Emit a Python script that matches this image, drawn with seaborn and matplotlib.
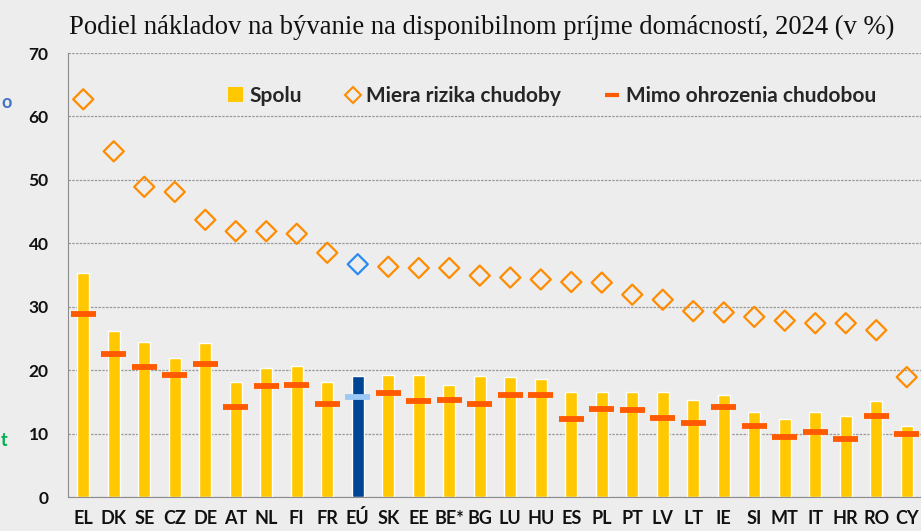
import numpy as np
import matplotlib.pyplot as plt
import seaborn as sns
from matplotlib.lines import Line2D
from matplotlib.patches import Patch
from matplotlib.ticker import MultipleLocator

# Hodnoty odčítané z grafu
krajiny = ['EL', 'DK', 'SE', 'CZ', 'DE', 'AT', 'NL', 'FI', 'FR', 'EÚ', 'SK', 'EE', 'BE*', 'BG',
           'LU', 'HU', 'ES', 'PL', 'PT', 'LV', 'LT', 'IE', 'SI', 'MT', 'IT', 'HR', 'RO', 'CY']
spolu = [35.3, 26.2, 24.4, 21.9, 24.3, 18.1, 20.3, 20.7, 18.2, 19.1, 19.2, 19.3, 17.7, 19.1,
         18.9, 18.6, 16.5, 16.5, 16.6, 16.5, 15.3, 16.1, 13.4, 12.3, 13.4, 12.8, 15.2, 11.2]
miera_rizika = [62.7, 54.5, 48.9, 48.1, 43.7, 41.9, 41.9, 41.5, 38.5, 36.7, 36.3, 36.1, 36.1, 34.9,
                34.6, 34.3, 33.9, 33.8, 31.9, 31.1, 29.3, 29.1, 28.4, 27.8, 27.4, 27.4, 26.3, 18.9]
mimo_ohrozenia = [28.9, 22.6, 20.5, 19.3, 20.9, 14.2, 17.5, 17.7, 14.6, 15.7, 16.4, 15.2, 15.3, 14.7,
                  16.1, 16.1, 12.3, 13.9, 13.7, 12.5, 11.7, 14.2, 11.2, 9.4, 10.3, 9.2, 12.7, 10.0]

zlta = '#FFC800'
oranzova = '#FF8C00'
cervena = '#FF5A00'
eu_tmava = '#004494'
eu_svetla = '#9CC8F5'
eu_modra = '#2A8AF0'
pozadie = '#EDEDED'

bar_colors = {k: (eu_tmava if k == 'EÚ' else zlta) for k in krajiny}
dash_colors = {k: (eu_svetla if k == 'EÚ' else cervena) for k in krajiny}
diamond_edges = [eu_modra if k == 'EÚ' else oranzova for k in krajiny]

sns.set_style('white')
plt.rcParams['font.family'] = ['Lato', 'DejaVu Sans']

fig = plt.figure(figsize=(9.21, 5.31), dpi=100, facecolor=pozadie)
ax = fig.add_axes([68 / 921, 1 - 497 / 531, 854 / 921, 444 / 531])
ax.set_facecolor(pozadie)

sns.barplot(x=krajiny, y=spolu, hue=krajiny, palette=bar_colors, width=0.4, saturation=1,
            legend=False, ax=ax, zorder=2)
sns.scatterplot(x=krajiny, y=mimo_ohrozenia, hue=krajiny, palette=dash_colors, marker='_',
                s=330, linewidth=4.2, legend=False, ax=ax, zorder=3)
sns.scatterplot(x=krajiny, y=miera_rizika, marker='D', s=105, legend=False, ax=ax, zorder=4)
diam = ax.collections[-1]
diam.set_facecolor('none')
diam.set_edgecolor(diamond_edges)
diam.set_linewidth(1.6)

ax.set_ylim(0, 70)
ax.set_xlim(-0.5, len(krajiny) - 0.5)
ax.yaxis.set_major_locator(MultipleLocator(10))
ax.grid(axis='y', color='#9A9A9A', linestyle=(0, (2, 1)), linewidth=0.9, zorder=0)
ax.set_axisbelow(True)
for s in ['top', 'right']:
    ax.spines[s].set_visible(False)
ax.spines['left'].set_color('#8C8C8C')
ax.spines['bottom'].set_color('#8C8C8C')

ax.tick_params(axis='y', length=5, color='#9A9A9A', pad=9, labelsize=12.5)
ax.set_xticks(np.arange(len(krajiny)))
ax.set_xticklabels(krajiny)
ax.set_xticks(np.arange(len(krajiny)) - 0.5, minor=True)
ax.tick_params(axis='x', which='major', length=0, pad=9, labelsize=13)
ax.tick_params(axis='x', which='minor', length=5, color='#8C8C8C', direction='out')
for t in ax.get_xticklabels() + ax.get_yticklabels():
    t.set_fontweight('bold')
    t.set_color('#111111')
ax.set_xlabel('')
ax.set_ylabel('')

handles = [
    Patch(facecolor=zlta, edgecolor='none'),
    Line2D([], [], marker='D', linestyle='none', markersize=8.5, markerfacecolor='none',
           markeredgecolor=oranzova, markeredgewidth=1.5),
    Line2D([], [], color=cervena, linewidth=3, solid_capstyle='butt'),
]
labels = ['Spolu', 'Miera rizika chudoby', 'Mimo ohrozenia chudobou']
leg = ax.legend(handles, labels, ncol=3, frameon=False, loc='center',
                bbox_to_anchor=((552 - 68) / 854, 0.903), handlelength=0.7, handleheight=0.7,
                handletextpad=0.3, columnspacing=2.1, prop={'weight': 'bold', 'size': 15})

fig.text(482 / 921, 1 - 27 / 531,
         'Podiel nákladov na bývanie na disponibilnom príjme domácností, 2024 (v %)',
         ha='center', va='center', fontsize=19.2, family='Liberation Serif', color='#111111')

# Zvyšky textu pri ľavom okraji
fig.text(0.001, 1 - 103 / 531, 'o', color='#4472C4', fontsize=13, fontweight='bold',
         ha='left', va='center')
fig.text(0.001, 1 - 440 / 531, 't', color='#00B050', fontsize=13, fontweight='bold',
         ha='left', va='center')

fig.savefig('out.png', dpi=100, facecolor=pozadie)
